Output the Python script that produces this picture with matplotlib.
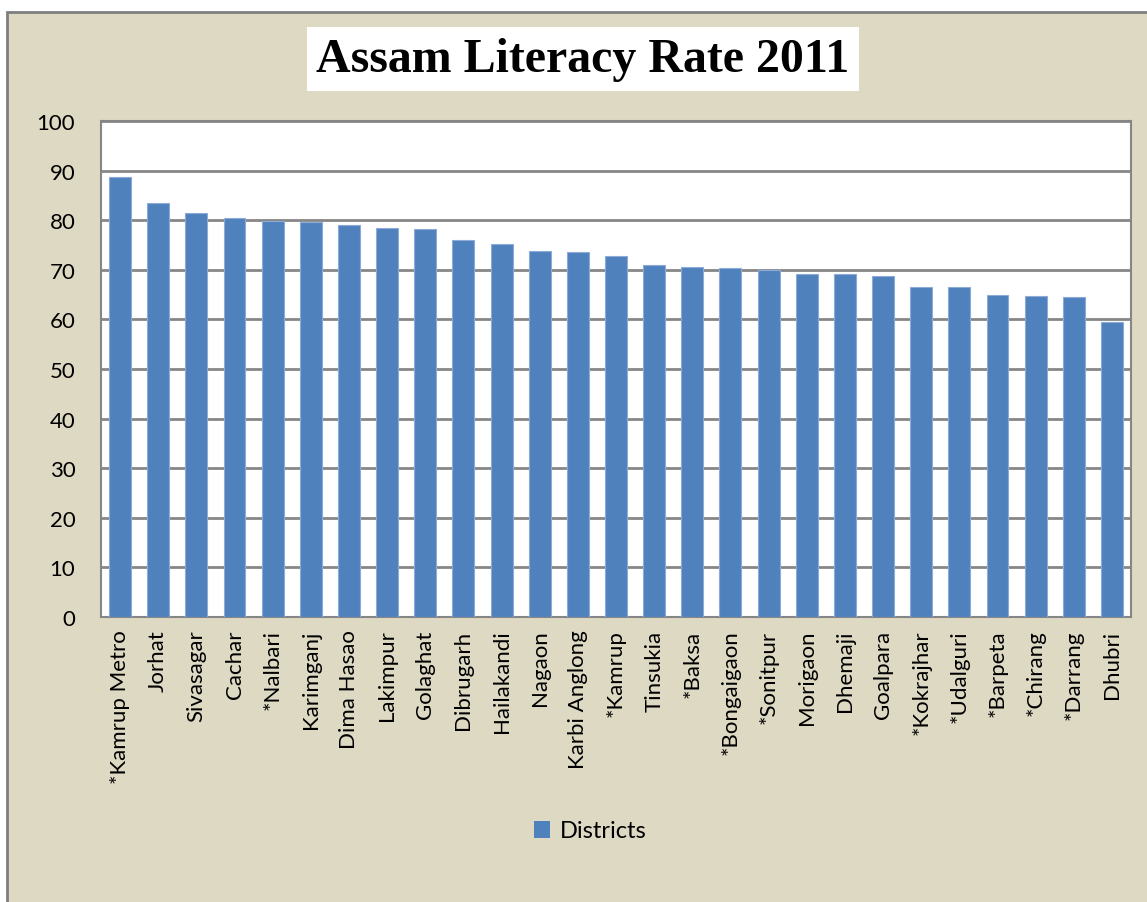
import matplotlib
matplotlib.use("Agg")
import matplotlib.pyplot as plt
from matplotlib.patches import Rectangle, Patch

# district literacy rates, Assam census 2011
districts = ["*Kamrup Metro", "Jorhat", "Sivasagar", "Cachar", "*Nalbari", "Karimganj",
             "Dima Hasao", "Lakimpur", "Golaghat", "Dibrugarh", "Hailakandi", "Nagaon",
             "Karbi Anglong", "*Kamrup", "Tinsukia", "*Baksa", "*Bongaigaon", "*Sonitpur",
             "Morigaon", "Dhemaji", "Goalpara", "*Kokrajhar", "*Udalguri", "*Barpeta",
             "*Chirang", "*Darrang", "Dhubri"]
rates = [88.7, 83.4, 81.4, 80.4, 79.9, 79.7, 79.0, 78.4, 78.3, 76.1, 75.3, 73.8,
         73.5, 72.8, 70.9, 70.5, 70.4, 70.0, 69.2, 69.1, 68.7, 66.6, 66.6, 65.0,
         64.7, 64.5, 59.4]
yticks = list(range(0, 101, 10))

W, H = 1147, 903
bar_col = "#4F81BD"
bg = "#DDD9C3"
font = ["Lato", "DejaVu Sans"]

fig = plt.figure(figsize=(W / 100, H / 100), dpi=100)
fig.patch.set_facecolor("white")
# outer chart area, behind the axes
fig.patches.append(Rectangle((7 / W, -0.1), 1.2, 1 - 13 / H + 0.1, transform=fig.transFigure,
                             facecolor=bg, edgecolor="#7F7F7F", linewidth=2, zorder=-5))

ax = fig.add_axes([101 / W, (H - 618) / H, 1030 / W, 496 / H])
ax.set_facecolor("white")
x = range(len(districts))
ax.bar(x, rates, width=0.575, color=bar_col, edgecolor="#8EAAD6", linewidth=0.8, zorder=3)
ax.set_xlim(-0.5, len(districts) - 0.5)
ax.set_ylim(0, 100)
ax.set_yticks(yticks)
ax.set_yticklabels([str(v) for v in yticks], fontsize=16, family=font)
ax.set_xticks(list(x))
ax.set_xticklabels(districts, rotation=90, fontsize=16, family=font, va="top", ha="center")
ax.tick_params(axis="y", length=0, pad=18.5)
ax.tick_params(axis="x", length=0, pad=9)
ax.grid(axis="y", color="#868686", linewidth=2, zorder=1)
for s in ax.spines.values():
    s.set_color("#868686")
    s.set_linewidth(1.5)

fig.text(583 / W, 1 - 60 / H, "Assam Literacy Rate 2011", ha="center", va="center",
         fontsize=34.5, fontweight="bold", family="Liberation Serif",
         bbox=dict(facecolor="white", edgecolor="none", pad=7))

fig.legend(handles=[Patch(facecolor=bar_col, label="Districts")], loc="center",
           bbox_to_anchor=(590 / W, 1 - 832 / H), frameon=False, handlelength=0.7,
           handleheight=0.7, handletextpad=0.4, prop={"family": font, "size": 17})

fig.savefig("out.png", dpi=100, facecolor=fig.get_facecolor())
